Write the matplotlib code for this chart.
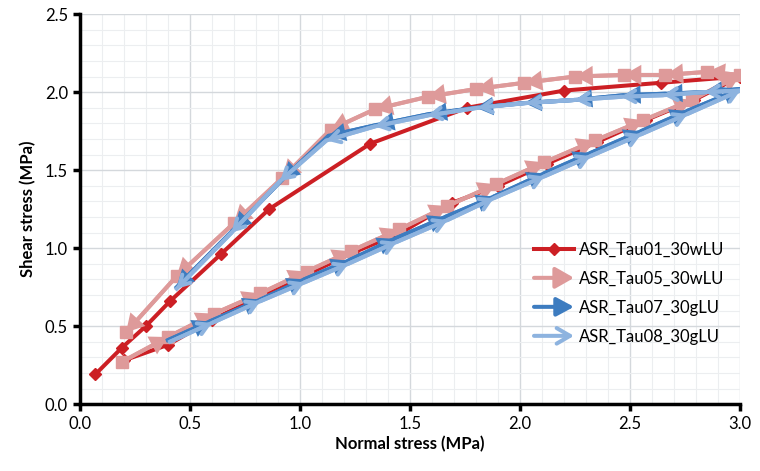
import matplotlib
matplotlib.use("Agg")
import matplotlib.pyplot as plt
from matplotlib.patches import FancyArrowPatch
from matplotlib.legend_handler import HandlerBase
from matplotlib.lines import Line2D
import numpy as np

plt.rcParams['font.family'] = ['Lato', 'DejaVu Sans']

# ---- data ----
tau01_x = [0.20, 0.40, 0.60, 0.82, 1.03, 1.24, 1.46, 1.69, 1.90, 2.12, 2.35, 2.57, 2.79, 3.00,
           2.64, 2.20, 1.76, 1.32, 0.86, 0.64, 0.41, 0.30, 0.19, 0.07]
tau01_y = [0.28, 0.38, 0.54, 0.69, 0.83, 0.97, 1.10, 1.29, 1.40, 1.54, 1.68, 1.82, 1.95, 2.10,
           2.06, 2.01, 1.90, 1.67, 1.25, 0.96, 0.66, 0.50, 0.36, 0.19]

tau05_x = [0.19, 0.40, 0.61, 0.82, 1.03, 1.23, 1.45, 1.67, 1.89, 2.11, 2.34, 2.56, 2.78, 3.00,
           2.85, 2.66, 2.47, 2.25, 2.02, 1.80, 1.58, 1.34, 1.14, 0.92, 0.70, 0.44, 0.21]
tau05_y = [0.27, 0.43, 0.58, 0.71, 0.85, 0.98, 1.12, 1.27, 1.41, 1.55, 1.69, 1.82, 1.95, 2.11,
           2.13, 2.11, 2.11, 2.10, 2.06, 2.02, 1.97, 1.89, 1.76, 1.45, 1.16, 0.82, 0.46]

tau07_x = [0.40, 0.59, 0.82, 1.02, 1.22, 1.43, 1.66, 1.88, 2.11, 2.32, 2.55, 2.76, 3.00,
           2.84, 2.66, 2.47, 2.25, 2.02, 1.80, 1.59, 1.35, 1.13, 0.92, 0.70, 0.44]
tau07_y = [0.41, 0.53, 0.67, 0.80, 0.92, 1.06, 1.20, 1.33, 1.48, 1.61, 1.75, 1.88, 2.02,
           2.00, 1.99, 1.98, 1.95, 1.93, 1.90, 1.86, 1.79, 1.72, 1.44, 1.12, 0.75]

tau08_x = [0.41, 0.60, 0.82, 1.02, 1.22, 1.44, 1.67, 1.88, 2.11, 2.32, 2.55, 2.76, 3.00,
           2.84, 2.65, 2.46, 2.25, 2.03, 1.81, 1.58, 1.34, 1.12, 0.91, 0.69, 0.44]
tau08_y = [0.40, 0.52, 0.66, 0.78, 0.90, 1.04, 1.18, 1.32, 1.46, 1.59, 1.73, 1.86, 2.01,
           2.00, 1.98, 1.97, 1.95, 1.93, 1.90, 1.85, 1.78, 1.69, 1.43, 1.10, 0.74]

labels = ['ASR_Tau01_30wLU', 'ASR_Tau05_30wLU', 'ASR_Tau07_30gLU', 'ASR_Tau08_30gLU']
x_ticks = [0.0, 0.5, 1.0, 1.5, 2.0, 2.5, 3.0]
y_ticks = [0.0, 0.5, 1.0, 1.5, 2.0, 2.5]

c_red = '#CC1F24'
c_pink = '#DE9A9A'
c_blue = '#3D7CC0'
c_lblue = '#8DB3DF'

st_pink = '-|>,head_length=0.7,head_width=0.4'
st_blue = '-|>,head_length=0.65,head_width=0.35'
st_lblue = '->,head_length=0.6,head_width=0.35'
MS = 12
LW = 2.9

fig = plt.figure(figsize=(7.6, 4.71), dpi=100)
ax = fig.add_axes([0.105, 0.142, 0.869, 0.828])

ax.set_xlim(0, 3.0)
ax.set_ylim(0, 2.5)
ax.set_xticks(x_ticks)
ax.set_yticks(y_ticks)
ax.set_xticklabels([f'{v:.1f}' for v in x_ticks])
ax.set_yticklabels([f'{v:.1f}' for v in y_ticks])
ax.set_xticks(np.arange(0, 3.0001, 0.1), minor=True)
ax.set_yticks(np.arange(0, 2.5001, 0.1), minor=True)
ax.grid(which='major', color='#D4D8DC', lw=1.0, zorder=0)
ax.grid(which='minor', color='#ECEEF0', lw=0.8, zorder=0)
ax.set_axisbelow(True)
for s in ['top', 'right']:
    ax.spines[s].set_visible(False)
for s in ['left', 'bottom']:
    ax.spines[s].set_linewidth(2.5)
    ax.spines[s].set_color('black')
ax.tick_params(which='major', direction='out', length=5, width=2.5, labelsize=12, colors='black')
ax.tick_params(which='minor', length=0)
ax.set_xlabel('Normal stress (MPa)', fontsize=12, fontweight='bold', labelpad=3)
ax.set_ylabel('Shear stress (MPa)', fontsize=12, fontweight='bold', labelpad=6)


def draw_arrows(xs, ys, color, style, z):
    for i in range(len(xs) - 1):
        a = FancyArrowPatch((xs[i], ys[i]), (xs[i + 1], ys[i + 1]), arrowstyle=style,
                            mutation_scale=MS, color=color, lw=LW, shrinkA=0, shrinkB=0,
                            zorder=z, joinstyle='miter')
        ax.add_patch(a)


ax.plot(tau01_x, tau01_y, color=c_red, lw=LW, marker='D', ms=6.5, zorder=3)
ax.plot(tau05_x, tau05_y, color=c_pink, lw=LW, marker='s', ms=8, zorder=4)
draw_arrows(tau05_x, tau05_y, c_pink, st_pink, 4)
ax.plot(tau07_x, tau07_y, color=c_blue, lw=LW, zorder=5)
draw_arrows(tau07_x, tau07_y, c_blue, st_blue, 5)
ax.plot(tau08_x, tau08_y, color=c_lblue, lw=LW, zorder=6)
draw_arrows(tau08_x, tau08_y, c_lblue, st_lblue, 6)


class ArrowHandler(HandlerBase):
    def __init__(self, color, style):
        super().__init__()
        self.color = color
        self.style = style

    def create_artists(self, legend, orig_handle, xdescent, ydescent, width, height, fontsize, trans):
        y = height / 2 - ydescent
        a = FancyArrowPatch((-xdescent, y), (width - xdescent, y), arrowstyle=self.style,
                            mutation_scale=16, color=self.color, lw=LW, shrinkA=0, shrinkB=0,
                            transform=trans)
        return [a]


h1 = Line2D([], [], color=c_red, lw=LW, marker='D', ms=6.5)
h2 = Line2D([], [], color=c_pink)
h3 = Line2D([], [], color=c_blue)
h4 = Line2D([], [], color=c_lblue)
leg = ax.legend([h1, h2, h3, h4], labels, loc='upper left', bbox_to_anchor=(0.665, 0.455),
                frameon=False, fontsize=12, handlelength=2.4, handletextpad=0.3,
                labelspacing=0.78, numpoints=1,
                handler_map={h2: ArrowHandler(c_pink, st_pink),
                             h3: ArrowHandler(c_blue, st_blue),
                             h4: ArrowHandler(c_lblue, st_lblue)})

fig.savefig('out.png', dpi=100)
